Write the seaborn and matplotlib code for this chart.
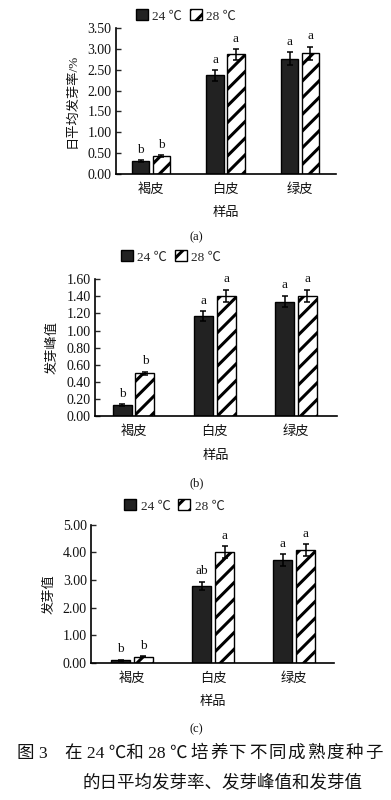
import matplotlib
matplotlib.use("Agg")
import matplotlib.pyplot as plt
from matplotlib.patches import Patch
import seaborn as sns
import pandas as pd

categories = ['褐皮', '白皮', '绿皮']
temps = ['24 ℃', '28 ℃']

rate_24 = [0.31, 2.37, 2.77]
rate_28 = [0.43, 2.87, 2.90]
rate_err_24 = [0.02, 0.13, 0.15]
rate_err_28 = [0.02, 0.13, 0.16]
rate_letters_24 = ['b', 'a', 'a']
rate_letters_28 = ['b', 'a', 'a']

peak_24 = [0.13, 1.17, 1.34]
peak_28 = [0.50, 1.41, 1.41]
peak_err_24 = [0.01, 0.06, 0.07]
peak_err_28 = [0.02, 0.07, 0.07]
peak_letters_24 = ['b', 'a', 'a']
peak_letters_28 = ['b', 'a', 'a']

value_24 = [0.09, 2.78, 3.72]
value_28 = [0.21, 4.01, 4.09]
value_err_24 = [0.02, 0.16, 0.22]
value_err_28 = [0.02, 0.22, 0.22]
value_letters_24 = ['b', 'ab', 'a']
value_letters_28 = ['b', 'a', 'a']

y_ticks_a = [0.0, 0.5, 1.0, 1.5, 2.0, 2.5, 3.0, 3.5]
y_ticks_b = [0.0, 0.2, 0.4, 0.6, 0.8, 1.0, 1.2, 1.4, 1.6]
y_ticks_c = [0.0, 1.0, 2.0, 3.0, 4.0, 5.0]

caption_fig = '图 3'
caption_head = '在 24 ℃和 28 ℃'
caption_tail = '培养下不同成熟度种子'
caption_line2 = '的日平均发芽率、发芽峰值和发芽值'

sns.set_theme(style='white')
plt.rcParams['font.family'] = ['Liberation Serif', 'Noto Sans CJK SC', 'DejaVu Sans']
plt.rcParams['hatch.linewidth'] = 2.2
plt.rcParams['hatch.color'] = 'black'

W, H = 391, 800
fig = plt.figure(figsize=(W / 100, H / 100), dpi=100)
fig.patch.set_facecolor('white')

DARK = '#222222'
TXT = '#111111'


def px_axes(left, right, top, bottom):
    return fig.add_axes([left / W, 1 - bottom / H, (right - left) / W, (bottom - top) / H])


def panel(box, v24, v28, e24, e28, l24, l28, yticks, xlim, ylabel, ylab_x,
          legend_center, xlab_y, sub_y, sub_label):
    ax = px_axes(*box)
    df = pd.DataFrame({
        'sample': categories * 2,
        'temp': [temps[0]] * 3 + [temps[1]] * 3,
        'value': list(v24) + list(v28),
    })
    sns.barplot(data=df, x='sample', y='value', hue='temp', order=categories,
                hue_order=temps, palette={temps[0]: DARK, temps[1]: 'white'},
                edgecolor='black', linewidth=1.0, width=0.56, gap=0.16,
                errorbar=None, legend=False, ax=ax)
    for bar in ax.containers[1]:
        bar.set_hatch('//')
    for cont, vals, errs, lets in [(ax.containers[0], v24, e24, l24),
                                   (ax.containers[1], v28, e28, l28)]:
        xs = [b.get_x() + b.get_width() / 2 for b in cont]
        ax.errorbar(xs, vals, yerr=errs, fmt='none', ecolor='black',
                    elinewidth=1.1, capsize=2.5, capthick=1.1, zorder=5)
        for x, v, e, t in zip(xs, vals, errs, lets):
            ax.annotate(t, (x, v + e), xytext=(0, 3), textcoords='offset points',
                        ha='center', va='bottom', fontsize=9.5, color=TXT)
    ax.set_xlim(*xlim)
    ax.set_ylim(yticks[0], yticks[-1])
    ax.set_yticks(yticks)
    ax.set_yticklabels([f'{t:.2f}' for t in yticks], fontsize=10, color=TXT)
    ax.set_xticks(range(len(categories)))
    ax.set_xticklabels(categories, fontsize=9.5, color=TXT)
    ax.tick_params(axis='y', direction='in', length=3.5, width=1.0, pad=3, left=True)
    ax.tick_params(axis='x', length=0, pad=7)
    ax.set_xlabel('')
    ax.set_ylabel('')
    for s in ['top', 'right']:
        ax.spines[s].set_visible(False)
    for s in ['left', 'bottom']:
        ax.spines[s].set_color('black')
        ax.spines[s].set_linewidth(1.2)
    ax.set_facecolor('white')

    left, right, top, bottom = box
    fig.text(ylab_x / W, 1 - (top + bottom) / 2 / H, ylabel, rotation=90,
             ha='center', va='center', fontsize=9.5, color=TXT)
    fig.text((left + right) / 2 / W, 1 - xlab_y / H, '样品', ha='center',
             va='center', fontsize=9.5, color=TXT)
    fig.text(196.5 / W, 1 - sub_y / H, sub_label, ha='center', va='center',
             fontsize=9, color=TXT)
    handles = [Patch(facecolor=DARK, edgecolor='black', linewidth=1.0),
               Patch(facecolor='white', edgecolor='black', linewidth=1.0, hatch='//')]
    fig.legend(handles, temps, loc='center',
               bbox_to_anchor=(legend_center[0] / W, 1 - legend_center[1] / H),
               ncol=2, frameon=False, fontsize=9.5, handlelength=0.9,
               handleheight=0.9, handletextpad=0.35, columnspacing=0.6,
               borderpad=0.1, borderaxespad=0)
    return ax


panel((115.7, 336, 28.3, 173.7), rate_24, rate_28, rate_err_24, rate_err_28,
      rate_letters_24, rate_letters_28, y_ticks_a, (-0.474, 2.483),
      '日平均发芽率/%', 73, (186, 16), 213, 237.7, '(a)')
panel((95, 336.7, 279.3, 416), peak_24, peak_28, peak_err_24, peak_err_28,
      peak_letters_24, peak_letters_28, y_ticks_b, (-0.474, 2.50),
      '发芽峰值', 53, (171, 257), 455.7, 483, '(b)')
panel((91, 334, 524.7, 662.7), value_24, value_28, value_err_24, value_err_28,
      value_letters_24, value_letters_28, y_ticks_c, (-0.506, 2.49),
      '发芽值', 50, (174.5, 506), 701.7, 729, '(c)')

cap_font = dict(va='center', fontsize=12.6, color=TXT,
                family=['Liberation Serif', 'Noto Sans CJK SC', 'DejaVu Sans'])
y1 = 1 - 754 / H
fig.text(17 / W, y1, caption_fig, ha='left', **cap_font)
head = fig.text(65 / W, y1, caption_head, ha='left', **cap_font)
renderer = fig.canvas.get_renderer()
head_end = head.get_window_extent(renderer).x1
probe = fig.text(0, 0, caption_tail[0], ha='left', **cap_font)
ch_w = probe.get_window_extent(renderer).width
probe.remove()
n = len(caption_tail)
start = head_end + 3
step = (383 - ch_w - start) / (n - 1)
for i, ch in enumerate(caption_tail):
    fig.text((start + i * step) / W, y1, ch, ha='left', **cap_font)
fig.text(82 / W, 1 - 782.7 / H, caption_line2, ha='left', **cap_font)

fig.savefig('out.png', dpi=100, facecolor='white')
